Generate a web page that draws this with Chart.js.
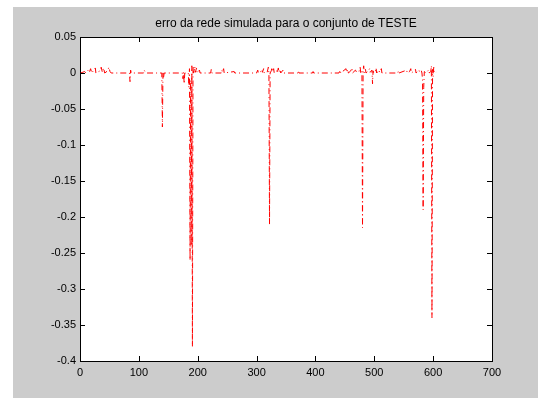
<!DOCTYPE html>
<html>
<head>
<meta charset="utf-8">
<script src="https://cdn.jsdelivr.net/npm/chart.js@4/dist/chart.umd.min.js"></script>
<style>
  html, body { margin: 0; padding: 0; background: #fff; }
  #wrap { width: 538px; height: 398px; }
</style>
</head>
<body>
<div id="wrap"><canvas id="erro-chart" width="538" height="398"></canvas></div>
<script>
(function () {
  "use strict";

  var titulo = "erro da rede simulada para o conjunto de TESTE";

  // amostra (indice do padrao) e erro da rede em cada ponto
  var amostras = [
    1, 8, 10, 14, 16, 18, 20, 26, 27, 34, 36, 38, 40, 42, 47, 49, 51, 53,
    84, 85, 86, 87, 108, 109, 111, 113, 139, 140, 141, 142, 143,
    174, 175, 176, 177, 178, 184, 185, 186, 187, 188, 189, 190, 191, 192, 193,
    195, 196, 198, 199, 203, 204, 222, 223, 224, 240, 241, 242, 244, 245, 262, 263,
    300, 302, 303, 307, 309, 310, 312, 313, 318, 320, 321, 322, 323,
    325, 326, 327, 329, 330, 334, 335, 337, 338, 340, 341, 345, 346,
    370, 371, 372, 395, 396, 397, 440, 442, 443, 452, 453, 455, 456,
    460, 462, 463, 468, 470, 474, 476, 477, 479, 480, 481, 482, 483,
    485, 486, 490, 492, 493, 496, 497, 498, 499, 502, 503, 504, 508, 509, 512, 513,
    540, 541, 542, 555, 556, 560, 562, 563, 568, 570, 571, 576, 577, 580, 581,
    582, 583, 584, 585, 588, 592, 593, 596, 597, 598, 599, 600, 601, 602, 605
  ];
  var erros = [
    0, 0.002, 0, 0.004, 0.001, 0.006, 0, 0.007, 0, 0.003, 0.008, 0.001, 0.007, 0, 0.003, 0.008, 0.002, 0,
    0, -0.012, 0.004, 0, 0, 0.004, 0.001, 0, 0, -0.075, 0.002, -0.006, 0,
    0, -0.008, 0.001, -0.015, 0, 0, -0.02, 0.006, -0.26, -0.01, -0.24, 0.01, -0.38, 0.01, 0,
    0.009, 0.001, 0.007, 0, 0.004, 0, 0, 0.005, 0, 0, 0.004, 0.001, 0.006, 0, 0.002, 0,
    0, 0.004, 0, 0.002, 0.005, 0.001, 0.006, 0, 0.001, 0.008, 0, -0.21, 0,
    0.003, 0.008, 0.002, 0.006, 0, 0.003, 0, 0.007, 0.001, 0.005, 0, 0.004, 0,
    0, 0.003, 0, 0, 0.002, 0, 0, 0.004, 0, 0.006, 0.001, 0.005, 0,
    0.003, 0.007, 0, 0.004, 0.001, 0.002, 0.008, 0, 0.003, -0.215, 0.004, 0.01, 0,
    0.005, 0, 0.003, 0.006, 0.001, 0.004, -0.015, 0.003, 0, 0.002, 0.007, 0, 0.004, 0.001, 0.006, 0,
    0, 0.003, 0, 0.004, 0, 0.002, 0.006, 0, 0.003, 0.005, 0, 0.004, 0.001, 0.003, 0,
    -0.01, -0.19, -0.02, 0.002, 0, 0.004, 0, 0.002, 0.01, -0.34, 0.005, -0.005, 0.008, 0, 0.001
  ];

  var xTicks = [0, 100, 200, 300, 400, 500, 600, 700];
  var yTicks = [0.05, 0, -0.05, -0.1, -0.15, -0.2, -0.25, -0.3, -0.35, -0.4];
  var yTickLabels = ["0.05", "0", "-0.05", "-0.1", "-0.15", "-0.2", "-0.25", "-0.3", "-0.35", "-0.4"];

  var fonte = "'Liberation Sans', Arial, sans-serif";
  var TICK = 5;

  // fundo cinza da figura, area dos eixos branca, marcas internas nos 4 lados e titulo
  var figura = {
    id: "figura",
    beforeDraw: function (chart) {
      var ctx = chart.ctx, a = chart.chartArea;
      ctx.save();
      ctx.fillStyle = "#ffffff";
      ctx.fillRect(0, 0, chart.width, chart.height);
      ctx.fillStyle = "#cccccc";
      ctx.fillRect(13, 7, chart.width - 13, chart.height - 7);
      ctx.fillStyle = "#ffffff";
      ctx.fillRect(a.left, a.top, a.right - a.left, a.bottom - a.top);
      ctx.restore();
    },
    afterDraw: function (chart) {
      var ctx = chart.ctx, a = chart.chartArea;
      var sx = chart.scales.x, sy = chart.scales.y;
      ctx.save();
      ctx.fillStyle = "#000000";
      xTicks.forEach(function (v) {
        var px = Math.round(sx.getPixelForValue(v));
        ctx.fillRect(px, a.bottom - TICK, 1, TICK);
        ctx.fillRect(px, a.top, 1, TICK);
      });
      yTicks.forEach(function (v) {
        var py = Math.round(sy.getPixelForValue(v));
        ctx.fillRect(a.left, py, TICK, 1);
        ctx.fillRect(a.right - TICK, py, TICK, 1);
      });
      ctx.font = "12px " + fonte;
      ctx.textAlign = "center";
      ctx.textBaseline = "middle";
      ctx.fillText(titulo, (a.left + a.right) / 2, a.top - 13);
      ctx.restore();
    }
  };

  function fixTicks(values) {
    return function (scale) {
      scale.ticks = values.map(function (v) { return { value: v }; });
    };
  }

  var frameGrid = { display: true, drawOnChartArea: false, drawTicks: false };
  var frameBorder = { display: true, color: "#000000", width: 1 };
  var tickFont = { family: fonte, size: 11 };

  new Chart(document.getElementById("erro-chart"), {
    type: "line",
    data: {
      datasets: [{
        data: amostras.map(function (x, i) { return { x: x, y: erros[i] }; }),
        borderColor: "#ff0000",
        borderWidth: 1,
        borderDash: [6, 3, 1, 3],
        pointRadius: 0,
        tension: 0,
        fill: false
      }]
    },
    options: {
      responsive: false,
      animation: false,
      layout: { padding: { left: 0, right: 46, top: 37, bottom: 0 } },
      plugins: { legend: { display: false }, tooltip: { enabled: false }, title: { display: false } },
      scales: {
        x: {
          type: "linear", position: "bottom", min: 0, max: 700,
          afterBuildTicks: fixTicks(xTicks),
          afterFit: function (s) { s.height = 37; },
          grid: frameGrid, border: frameBorder,
          ticks: { font: tickFont, color: "#000000", padding: 5, maxRotation: 0 }
        },
        x2: {
          type: "linear", position: "top", min: 0, max: 700,
          afterFit: function (s) { s.height = 0; },
          grid: frameGrid, border: frameBorder,
          ticks: { display: false }
        },
        y: {
          type: "linear", position: "left", min: -0.4, max: 0.05,
          afterBuildTicks: fixTicks(yTicks),
          afterFit: function (s) { s.width = 80; },
          grid: frameGrid, border: frameBorder,
          ticks: {
            font: tickFont, color: "#000000", padding: 4,
            callback: function (v) { return yTickLabels[yTicks.indexOf(Math.round(v * 100) / 100)]; }
          }
        },
        y2: {
          type: "linear", position: "right", min: -0.4, max: 0.05,
          afterFit: function (s) { s.width = 0; },
          grid: frameGrid, border: frameBorder,
          ticks: { display: false }
        }
      }
    },
    plugins: [figura]
  });
})();
</script>
</body>
</html>
